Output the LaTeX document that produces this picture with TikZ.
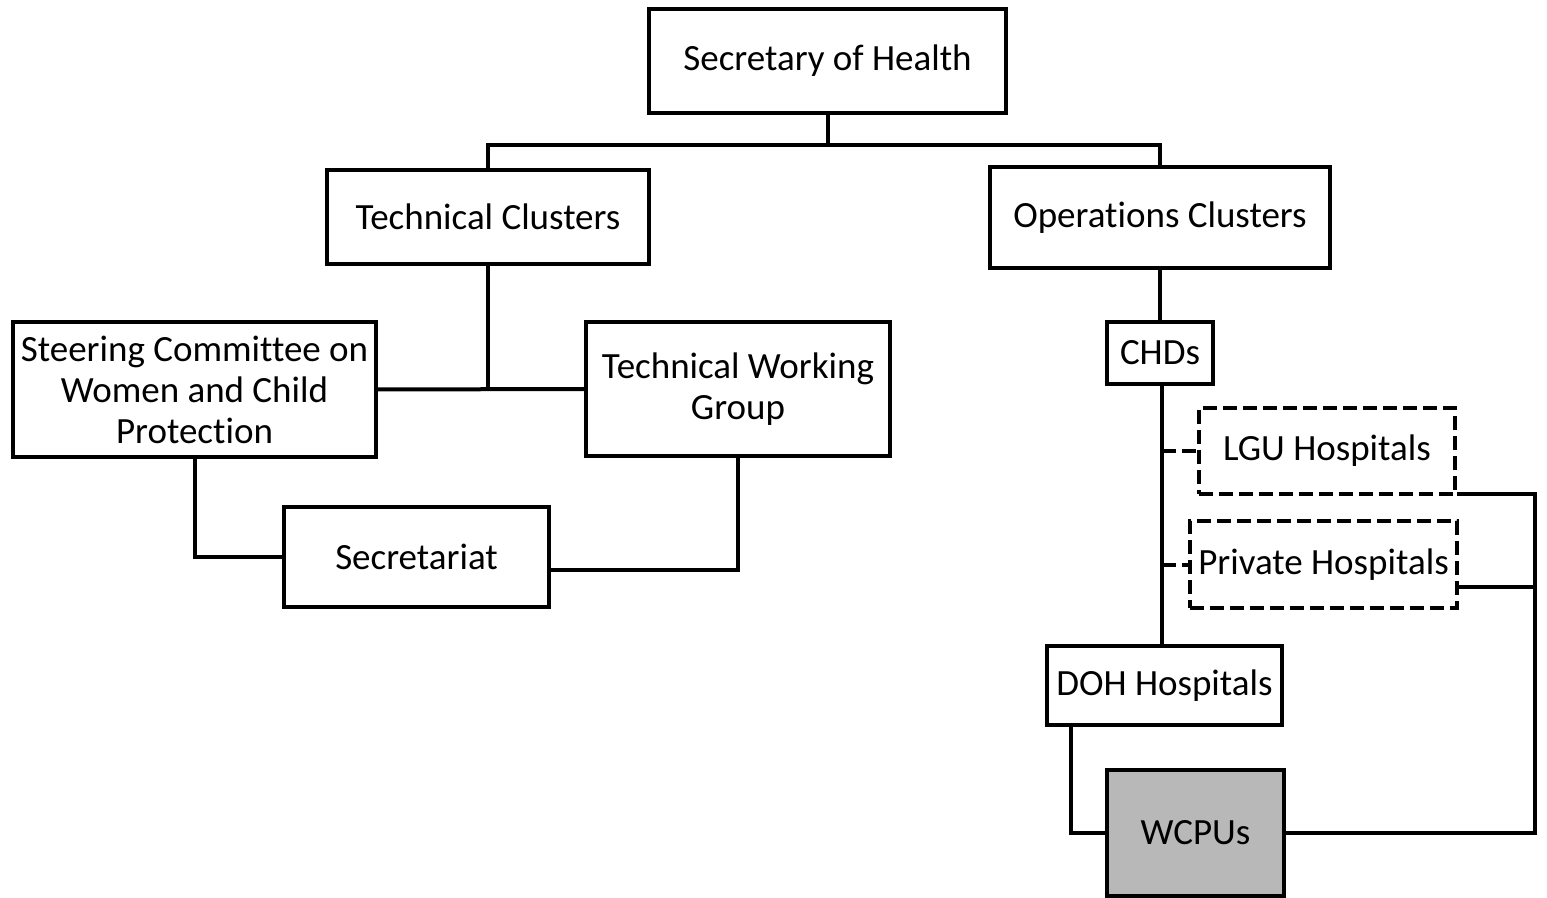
\documentclass[tikz,border=0pt]{standalone}
\usepackage{fontspec}
\setmainfont{Carlito}[Ligatures=CommonOff]

\tikzset{every picture/.style={line width=2pt}}
\tikzset{
  orgbox/.style={draw, line width=2pt, inner sep=0pt, align=center, font=\fontsize{18.5}{20.5}\selectfont},
  dashbox/.style={orgbox, dash pattern=on 7pt off 3pt},
  unitbox/.style={orgbox, fill=black!28},
  link/.style={line width=2pt},
  dashlink/.style={line width=2pt, dash pattern=on 7pt off 3pt},
}

\begin{document}
\begin{tikzpicture}[x=0.5pt,y=0.5pt,yscale=-1]
\fill[white] (0,0) rectangle (1547,898);
\useasboundingbox (0,0) rectangle (1547,898);

% Boxes
\node [orgbox, minimum width=178.5pt, minimum height=52pt] (sec) at (827.5,61) {Secretary of Health};
\node [orgbox, minimum width=161pt, minimum height=47pt] (tech) at (488,217) {Technical Clusters};
\node [orgbox, minimum width=170pt, minimum height=50.5pt] (ops) at (1160,217.5) {Operations Clusters};
\node [orgbox, minimum width=181.5pt, minimum height=67.5pt] (steer) at (194.5,389.5) {Steering Committee on\\Women and Child\\Protection};
\node [orgbox, minimum width=152pt, minimum height=67pt] (twg) at (738,389) {Technical Working\\Group};
\node [orgbox, minimum width=132.5pt, minimum height=50pt] (secr) at (416.5,557) {Secretariat};
\node [orgbox, minimum width=53pt, minimum height=31pt] (chd) at (1160,353) {CHDs};
\node [dashbox, minimum width=128pt, minimum height=43pt] (lgu) at (1327,451) {LGU Hospitals};
\node [dashbox, minimum width=133.5pt, minimum height=43.5pt] (priv) at (1323.5,564.5) {Private Hospitals};
\node [orgbox, minimum width=117.5pt, minimum height=39.5pt] (doh) at (1164.5,685.5) {DOH Hospitals};
\node [unitbox, minimum width=88.5pt, minimum height=63pt] (wcpu) at (1195.5,833) {WCPUs};

% Lines, left side
\draw [link] (sec.south) -- ++(0,30) coordinate (bus) -| (tech.north);
\draw [link] (bus) -| (ops.north);
\draw [link] (steer.east) -- (twg.west);
\draw [link] (tech.south) -- (tech.south |- steer.east);
\draw [link] (steer.south) |- (secr.west);
\draw [link] (twg.south) |- ([yshift=6.5pt]secr.east);

% Lines, right side
\draw [link] (ops.south) -- (chd.north);
\draw [link] ([xshift=1pt]chd.south) -- ([xshift=1pt]chd.south |- doh.north);
\draw [dashlink] ([xshift=1pt]chd.south |- lgu.west) -- (lgu.west);
\draw [dashlink] ([xshift=1pt]chd.south |- priv.west) -- (priv.west);
\coordinate (privtap) at ([yshift=11pt]priv.east);
\draw [link] ([yshift=-1pt]lgu.south east) -- ++(78,0) coordinate (rail) |- (wcpu.east);
\draw [link] (privtap) -- (rail |- privtap);
\draw [link] ([xshift=13pt]doh.south west) |- (wcpu.west);

\end{tikzpicture}
\end{document}
